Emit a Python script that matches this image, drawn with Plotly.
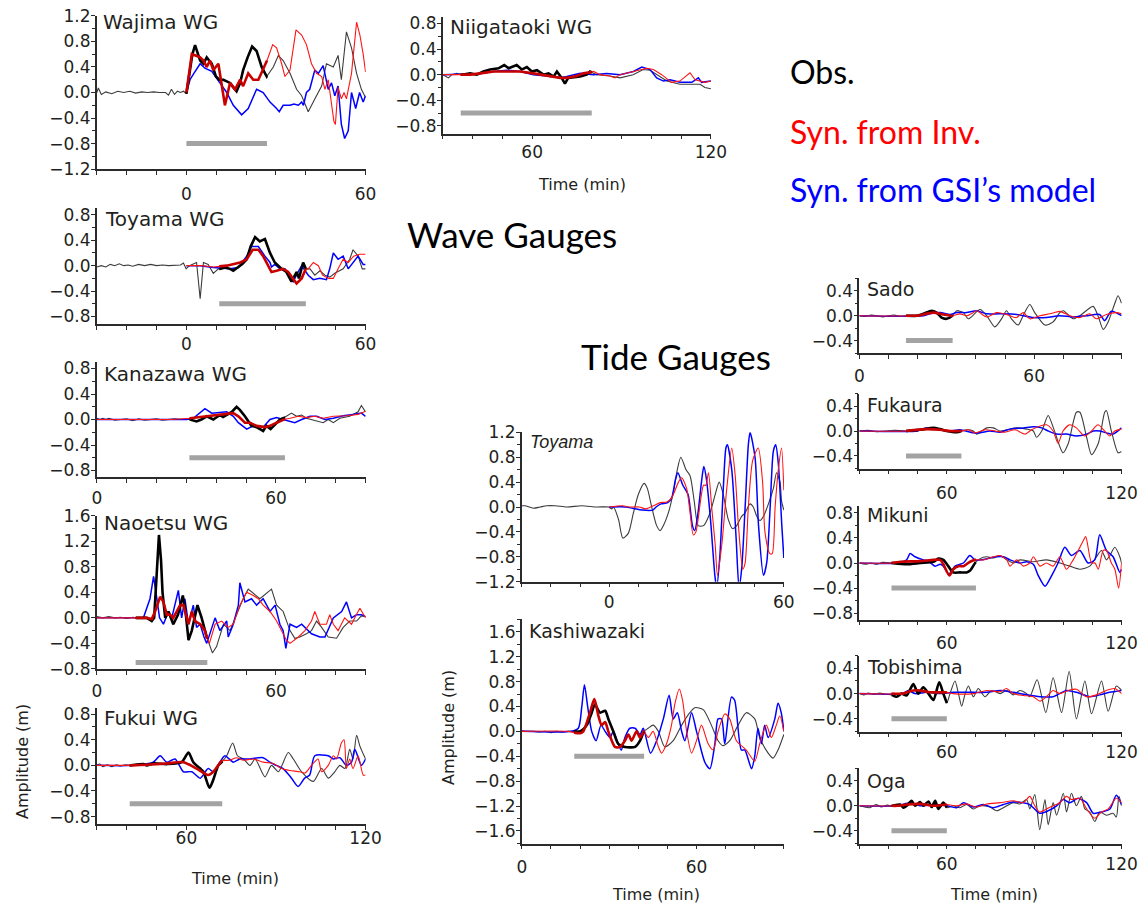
import plotly.graph_objects as go

W, H = 1146, 908

# ---------------- data (time in min, amplitude in m) ----------------
WAJIMA_OBS = [(-30,0.0),(-29.5,0.07),(-28.5,-0.03),(-27,0.01),(-25,-0.02),(-23,0.02),(-21,0.0),(-19,0.02),(-17,-0.01),(-15,0.01),(-13,0.0),(-11,0.01),(-9,0.0),(-7,0.0),(-6,-0.04),(-5,0.05),(-4,-0.03),(-3,0.02),(-2,0.0),(-1,0.02),(0,-0.02),(1,0.3),(2,0.6),(2.9,0.74),(3.6,0.65),(4.6,0.5),(5.7,0.45),(6.8,0.55),(7.6,0.5),(8.5,0.45),(9.9,0.25),(11,0.2),(12.4,0.2),(13.5,0.17),(14.6,0.15),(15.7,0.08),(16.8,0.02),(18,0.15),(19,0.35),(20.5,0.55),(22,0.72),(23.5,0.65),(25.2,0.4),(26.9,0.25),(29.1,0.4),(30.8,0.58),(32.4,0.5),(34.7,0.3),(36.9,0.05),(38.6,-0.05),(40.8,-0.3),(43,-0.1),(45.3,0.1),(46.9,0.45),(49.2,0.4),(50.8,0.58),(51.9,0.2),(53.6,0.95),(55.3,0.7),(57,0.3),(58.6,0.05),(60,-0.08)]
WAJIMA_INV = [(0,0.0),(1.8,0.6),(3.5,0.57),(4.6,0.55),(5.7,0.5),(6.8,0.4),(7.9,0.5),(9,0.35),(10.7,0.45),(11.2,0.3),(12.9,-0.2),(14.6,0.15),(16.3,0.05),(18,0.2),(19,0.1),(20.7,0.3),(22.4,0.2),(24.1,0.2),(26.3,0.45),(27,0.5),(28.9,0.75),(30.2,0.7),(31.9,0.45),(33,0.25),(34.7,0.35),(36.7,0.98),(38.6,0.9),(40.2,0.75),(41.9,0.45),(43.6,0.3),(45.3,0.25),(46.4,0.05),(47.5,0.2),(49.4,-0.45),(49.9,-0.5),(50.8,0.08),(51.9,-0.1),(52.8,0.0),(53.6,-0.1),(55.3,0.3),(57,1.1),(58.1,0.9),(59.2,0.6),(60,0.32)]
WAJIMA_GSI = [(0,0.0),(1.2,0.2),(2.5,0.3),(4.6,0.45),(6.2,0.38),(8.5,0.33),(11.2,0.15),(13.5,0.0),(15.7,-0.2),(18.5,-0.35),(20.7,-0.25),(23.5,0.05),(25.7,0.0),(28,-0.15),(30.2,-0.25),(31.1,-0.3),(32.4,-0.2),(34.7,-0.2),(36,-0.18),(37.5,-0.2),(38.6,-0.15),(39.2,-0.2),(40.2,0.0),(41.3,0.05),(43,0.35),(44.2,0.3),(45.8,0.42),(47.5,0.05),(48.6,0.15),(49.7,-0.05),(50.8,0.1),(51.9,-0.5),(53,-0.72),(54.2,-0.6),(55.3,0.0),(56.7,-0.25),(58,0.0),(59.2,-0.15),(60,-0.05)]

TOYAMAWG_OBS = [(-30,-0.02),(-28.5,0.0),(-27,-0.02),(-25.5,0.02),(-24,0.0),(-22.5,0.03),(-21,0.0),(-19.5,0.01),(-18,-0.01),(-16,0.02),(-14,0.0),(-12,0.02),(-10,0.0),(-8,0.01),(-6,0.0),(-4,0.0),(-2,0.01),(-1,0.04),(-0.1,-0.05),(1,0.0),(2.5,0.03),(3.4,0.05),(4.6,-0.52),(5.7,0.05),(7.3,0.02),(9,-0.12),(10.7,-0.05),(11.2,-0.05),(13,-0.03),(14.6,-0.05),(15.7,-0.08),(17.4,-0.02),(18.8,0.03),(20.2,0.1),(21.5,0.3),(23,0.45),(24.6,0.38),(26.3,0.42),(28,0.2),(29.6,0.05),(31.9,-0.05),(33.5,-0.1),(35.2,-0.25),(36.9,-0.1),(37.7,-0.2),(39.1,0.05),(40,-0.05),(41.4,-0.05),(43,-0.15),(44.7,-0.08),(46.4,-0.15),(48,-0.18),(49.7,-0.12),(52.5,-0.05),(54.7,0.1),(55.8,0.25),(57.5,0.15),(58.9,-0.05),(60,-0.05)]
TOYAMAWG_INV = [(0,0.0),(5,0.0),(9,-0.02),(13.5,0.0),(18,0.05),(20.2,0.1),(22.2,0.25),(24.1,0.25),(25.7,0.15),(27.4,0.0),(28.5,-0.1),(30.2,-0.08),(32.4,-0.05),(34.1,-0.1),(36.9,-0.28),(38.6,-0.2),(40,-0.05),(40.8,-0.05),(42.5,0.05),(44.2,0.0),(45.6,-0.15),(47.5,-0.2),(49.2,-0.2),(50.8,-0.05),(52.5,0.1),(54.2,0.05),(56,0.15),(58,0.18),(60,0.18)]
TOYAMAWG_GSI = [(0,0.0),(4.6,0.0),(9,-0.03),(14.6,-0.05),(17.4,-0.03),(20.2,0.15),(21.8,0.3),(24.1,0.3),(26.3,0.15),(28,0.05),(28.5,-0.02),(29.6,0.02),(31.3,-0.05),(33,-0.05),(34.7,-0.18),(35.8,-0.25),(37.4,-0.1),(38.6,0.0),(40.8,-0.15),(42.5,-0.22),(44.7,-0.2),(46.9,-0.22),(48,-0.05),(49.2,0.2),(50.8,0.1),(52.5,0.15),(54.2,-0.05),(55.8,0.05),(57.5,0.15),(59.2,0.02),(60,0.02)]

KANAZAWA_OBS = [(0,0.02),(1,0.0),(2,0.02),(3,0.0),(4,0.02),(6,-0.01),(8,0.0),(10,0.01),(12,-0.02),(14,0.01),(16,-0.01),(18,0.0),(20,0.01),(22,-0.01),(24,0.0),(26,0.01),(28,0.0),(30,0.0),(31.2,0.0),(33.4,-0.03),(35,0.0),(36.8,0.05),(39,0.0),(41.2,0.07),(42.3,0.04),(45.2,0.12),(46.8,0.2),(47.9,0.15),(49.6,0.05),(51.8,-0.1),(53.5,-0.12),(55.7,-0.18),(56.8,-0.1),(58.2,-0.15),(60.2,-0.05),(61.3,0.0),(62.8,0.03),(63.6,0.05),(65.2,0.1),(66.9,0.05),(68.6,0.07),(70.2,0.02),(73,-0.02),(75.8,-0.05),(77.5,0.0),(79.2,-0.05),(81.4,0.02),(84.7,0.05),(87.5,0.12),(88.6,0.22),(90,0.12)]
KANAZAWA_INV = [(0,0.0),(25,0.0),(31.2,0.02),(36.8,0.05),(41.2,0.08),(44.6,0.1),(45.7,0.1),(47.4,0.05),(49.6,-0.05),(51.3,-0.05),(53.5,-0.1),(56.3,-0.12),(58,-0.1),(60.2,-0.05),(62.4,0.0),(64.7,0.02),(67.5,0.05),(70.2,0.03),(73,0.05),(75.8,0.02),(79.2,0.05),(83.6,0.06),(87.5,0.08),(90,0.13)]
KANAZAWA_GSI = [(0,0.0),(30,0.0),(32.3,0.02),(36.2,0.17),(38.5,0.1),(41.8,0.12),(43.5,0.12),(45.7,0.05),(47.4,-0.05),(50.2,-0.15),(52.4,-0.1),(54.1,-0.1),(55.7,-0.12),(58,0.0),(60.2,0.03),(62.4,0.0),(64.7,-0.03),(66.3,-0.05),(68.6,0.0),(71.4,0.05),(73.6,0.05),(76.4,0.0),(79.2,0.02),(82.5,0.06),(85.8,0.08),(88.6,0.1),(90,0.05)]

NAOETSU_OBS = [(0,0.02),(2,0.0),(4,0.02),(6,0.0),(8,0.01),(10,-0.01),(12,0.01),(13.4,0.0),(16.7,0.0),(18.4,-0.05),(19.2,0.0),(20.2,0.8),(20.8,1.3),(21.5,0.9),(22,0.4),(22.9,0.0),(24,0.1),(25.6,-0.1),(27.2,0.05),(28.8,0.35),(29.7,0.1),(30.7,-0.35),(31.8,-0.2),(33.7,0.2),(35.1,0.0),(36.8,-0.3),(37.9,-0.45),(38.7,-0.55),(40.1,-0.45),(42.4,-0.1),(44.6,-0.2),(46.8,0.05),(49,0.3),(50.7,0.45),(53.5,0.35),(54.6,0.3),(58.5,0.45),(60.2,0.2),(62.4,0.1),(64.7,-0.2),(66.3,-0.32),(68,-0.3),(70.2,-0.25),(71.9,-0.2),(73.6,-0.05),(75.3,-0.15),(77.5,-0.3),(80.3,-0.32),(82.5,-0.15),(84.7,-0.05),(87,-0.05),(88.6,0.03),(90,0.02)]
NAOETSU_INV = [(0,0.0),(13.4,0.0),(16.7,0.0),(18.4,-0.02),(19.5,0.1),(21.2,0.33),(22.3,0.25),(23.4,0.05),(24.5,0.05),(25.6,0.0),(27.9,0.2),(29,0.2),(30.7,-0.1),(31.8,0.1),(32.9,-0.05),(34.6,-0.1),(36.2,-0.2),(36.8,-0.3),(37.7,-0.4),(39.6,-0.1),(41.8,-0.05),(44,-0.15),(45.7,-0.1),(47.9,0.2),(50.2,0.4),(52.4,0.35),(54.1,0.3),(55.7,0.2),(58,0.1),(60.2,-0.05),(63.5,-0.35),(64.7,-0.4),(67.5,-0.3),(69.7,-0.2),(71.9,-0.05),(73,0.1),(74.7,-0.1),(76.9,-0.1),(78,0.05),(79.2,-0.1),(80.8,-0.2),(83,0.0),(85.3,-0.1),(86.9,0.05),(88.1,0.15),(90,0.0)]
NAOETSU_GSI = [(0,0.0),(15.6,0.0),(17.8,0.3),(19,0.65),(20.1,0.3),(21,0.0),(22.3,-0.1),(24,0.1),(25.1,0.0),(27.3,0.43),(28.4,0.0),(29.5,0.3),(30.7,-0.1),(32.3,0.2),(33.4,-0.15),(34.6,-0.1),(35.9,-0.3),(36.8,-0.4),(39.6,0.0),(41.2,-0.2),(43.5,-0.05),(44,-0.3),(45.7,-0.1),(47.4,0.2),(47.9,0.55),(49.6,0.25),(51.8,0.3),(53.5,0.2),(55.7,0.3),(58,0.1),(59.7,0.2),(61.3,-0.1),(62.4,-0.2),(63.3,-0.48),(64.7,-0.1),(66.9,-0.15),(68.6,-0.1),(71.9,-0.25),(74.7,-0.3),(76.4,-0.3),(79.2,0.0),(82,0.1),(83.6,0.25),(85.3,0.0),(87,0.05),(88.6,0.05),(90,0.02)]

FUKUIWG_OBS = [(30,0.0),(31,0.02),(32,-0.02),(33.5,0.01),(35,-0.02),(36.5,0.01),(38,-0.01),(39.5,0.01),(41.1,0.0),(45.6,0.02),(46.7,0.0),(48.9,0.03),(53.4,0.02),(58.4,0.05),(60.7,0.2),(62.3,0.05),(64.6,-0.05),(65.7,-0.1),(67.7,-0.35),(68.8,-0.25),(70.7,0.0),(71.8,0.05),(73.5,0.15),(75.5,0.35),(77.1,0.15),(79.1,0.1),(81.3,0.0),(83,0.1),(86.3,-0.18),(88.5,0.0),(90.8,-0.1),(94.1,0.2),(95.8,0.1),(98.6,-0.1),(102.5,-0.25),(105.3,-0.05),(107.5,-0.2),(109.7,-0.1),(111.4,0.0),(113.1,-0.05),(114.7,0.25),(115.8,0.1),(117,0.47),(118.1,0.3),(120,0.1)]
FUKUIWG_INV = [(30,0.0),(41,0.0),(46.7,0.01),(53.4,0.03),(59,0.05),(63.4,-0.05),(67.3,-0.15),(69,-0.1),(71.8,0.07),(74.6,0.08),(76.8,0.12),(79.1,0.08),(82.4,0.1),(85.7,0.05),(89.1,0.03),(91.9,-0.05),(94.6,-0.08),(98,-0.1),(99.7,-0.12),(101.9,0.0),(104.1,0.1),(105.3,-0.1),(107.5,0.0),(109.2,0.15),(110.3,0.1),(111.9,0.35),(112.8,0.4),(113.6,-0.05),(114.7,0.1),(115.8,-0.05),(117.5,0.15),(119.2,-0.15),(120,-0.15)]
FUKUIWG_GSI = [(30,0.0),(42,0.0),(48.9,0.05),(51.2,0.15),(53.4,0.05),(56.2,0.1),(59,-0.1),(61.8,-0.1),(64.6,-0.2),(67.3,-0.05),(69,-0.1),(71.2,0.05),(72.9,0.15),(75.7,0.05),(77.9,0.1),(80.7,0.1),(85.7,0.12),(87.9,0.05),(90.1,0.0),(92.4,-0.05),(95.2,-0.2),(97.4,-0.33),(99.6,-0.2),(101.3,-0.15),(103,0.15),(107.5,0.15),(109.2,0.1),(111.4,0.12),(113.6,0.0),(115.3,0.05),(116.4,0.25),(118.6,0.0),(120,0.1)]

NIIGATAOKI_OBS = [(30,0.0),(31.9,-0.05),(33,0.0),(34.7,0.02),(36.4,0.0),(39.2,0.02),(41.4,0.0),(43.6,0.05),(45.9,0.08),(48.7,0.1),(50.6,0.15),(52.1,0.1),(54.8,0.15),(56.5,0.08),(58.2,0.12),(59.9,0.05),(61.6,0.07),(63.8,0.0),(65.5,0.02),(67.2,-0.03),(68.3,0.05),(69.9,-0.05),(71,-0.14),(72.1,-0.05),(76.1,-0.03),(78.3,0.0),(79.4,0.05),(81.6,0.0),(86.1,-0.02),(89.5,-0.05),(93.9,0.0),(97.3,0.08),(99.6,0.07),(101.8,0.0),(105.2,-0.1),(109.6,-0.15),(114.1,-0.15),(116.4,-0.15),(118,-0.2),(120,-0.22)]
NIIGATAOKI_INV = [(30,0.0),(39.2,0.0),(42.6,0.02),(47,0.05),(51.5,0.05),(56,0.05),(60.4,0.02),(66,-0.03),(69.4,-0.05),(71.6,-0.05),(75,-0.02),(77.2,0.02),(79.4,0.03),(80.6,0.05),(82.8,0.0),(86.1,-0.02),(87.8,-0.05),(89.5,0.0),(94,0.05),(98.5,0.1),(100.7,0.08),(103.5,0.0),(106.8,-0.12),(109.6,-0.1),(113,0.03),(114.7,-0.08),(118,-0.12),(120,-0.1)]
NIIGATAOKI_GSI = [(30,0.0),(42.6,0.02),(47,0.05),(51.5,0.07),(56,0.05),(60.4,0.0),(64.9,-0.02),(69.4,-0.05),(71.6,-0.03),(73.9,0.0),(76.1,0.02),(80.6,0.0),(85,0.02),(89.5,0.0),(94,0.05),(96.8,0.12),(99.6,0.08),(101.8,-0.05),(104.1,-0.1),(106.3,-0.08),(109.6,-0.12),(113.6,-0.12),(115.8,-0.05),(116.9,-0.12),(120,-0.1)]

TOYAMATG_OBS = [(-30,0.02),(-28.9,0.02),(-26,-0.02),(-23.7,0.0),(-21.4,0.02),(-18.5,0.02),(-14.5,0.0),(-9.4,0.02),(-4.3,0.0),(-0.3,0.0),(0.9,-0.03),(1.5,0.0),(3.2,-0.2),(4.7,-0.5),(6.6,-0.42),(8.3,-0.1),(10,0.2),(12,0.38),(13.1,0.3),(14.6,0.0),(16.3,-0.3),(17.5,-0.38),(18.6,-0.3),(20.3,-0.1),(22.3,0.3),(23.4,0.6),(24.6,0.8),(26.4,0.6),(27.8,0.5),(29.2,0.1),(30.6,-0.3),(32.4,-0.3),(34.6,-0.1),(36.4,0.2),(37.8,0.4),(39.2,0.2),(40.9,-0.2),(42.4,-0.35),(43.8,-0.3),(45.5,-0.15),(46.6,-0.1),(48.4,0.05),(49.5,0.0),(50.7,-0.15),(51.8,-0.22),(53,-0.15),(54.7,0.05),(56.4,0.3),(57.5,0.55),(58.7,0.4),(59.2,0.1),(60,-0.05)]
TOYAMATG_INV = [(0,0.0),(4.6,0.02),(6.9,0.0),(10.3,0.0),(12.6,-0.03),(15.2,0.02),(17.5,0.07),(19.8,0.08),(21.5,0.15),(23.8,0.4),(24.9,0.47),(26.6,0.3),(27.8,-0.1),(28.9,-0.45),(29.8,-0.4),(32.4,0.35),(33.2,0.35),(34.1,0.55),(35.2,0.0),(36.4,-0.6),(37.2,-1.1),(38.7,-0.6),(40.4,0.3),(42.1,0.95),(43.3,0.5),(44.4,-0.3),(45.9,-1.0),(46.7,-0.9),(47.8,0.0),(49.3,0.75),(51.2,0.95),(52.7,0.4),(53.5,-0.4),(55.2,-0.75),(56,-0.75),(57,0.0),(58.1,0.6),(59.2,0.95),(60,0.27)]
TOYAMATG_GSI = [(0,0.0),(5.7,0.0),(8,-0.02),(11.5,-0.05),(14.9,-0.05),(16.1,0.0),(17.8,0.05),(20.1,0.07),(21.5,0.15),(22.8,0.45),(23.6,0.55),(25.3,0.35),(27.1,0.2),(28.6,-0.3),(29.4,-0.38),(30.5,-0.1),(31.7,0.4),(32.5,0.65),(33.4,0.45),(34.8,-0.2),(36.3,-1.1),(36.9,-1.3),(38,-0.8),(39.2,0.3),(40.1,0.95),(40.6,1.0),(42.1,0.6),(43.6,-0.5),(44.6,-1.3),(45.5,-1.0),(46.7,0.0),(47.8,1.0),(48.4,1.2),(50.1,0.8),(51.3,-0.3),(53,-1.1),(54.1,-0.9),(55.3,0.0),(56.4,0.9),(57.2,1.0),(58.1,0.7),(59.3,-0.3),(60,-0.82)]

KASHIWAZAKI_OBS = [(0,0.01),(2,0.0),(4,0.0),(6,-0.01),(8,0.0),(10,-0.02),(12,0.0),(14,-0.01),(16,0.0),(17.9,0.0),(20,0.0),(22.3,0.1),(24,0.3),(25.1,0.43),(26.9,0.3),(28.6,0.33),(29.7,0.2),(31.4,0.0),(33.1,-0.2),(35.4,-0.25),(38.9,-0.25),(40.6,-0.15),(41.9,0.0),(43.4,0.05),(45.1,0.1),(46.9,0.0),(49.1,-0.25),(52,-0.15),(54.9,0.1),(57.7,0.3),(59.4,0.38),(62.3,0.35),(65.1,0.1),(67.4,-0.15),(69.1,-0.23),(71.4,-0.15),(74.3,0.1),(77.1,0.3),(80,0.2),(81.7,-0.1),(84.6,-0.35),(86.3,-0.43),(88,-0.3),(90,-0.05)]
KASHIWAZAKI_INV = [(0,0.0),(16,0.0),(17.9,-0.02),(20,-0.03),(21.1,0.0),(23.4,0.3),(24.9,0.52),(26.3,0.25),(27.4,0.1),(28.6,0.15),(29.7,0.0),(32,-0.25),(33.7,-0.25),(35.4,-0.15),(36.6,-0.05),(37.7,-0.15),(39.4,0.0),(40.6,-0.1),(41.9,0.0),(43.4,-0.1),(45.1,0.0),(46.9,-0.25),(48,-0.35),(49.7,-0.2),(51.4,0.1),(52.6,0.45),(54.1,0.68),(55.2,0.5),(56.6,0.0),(58.3,-0.35),(60,-0.15),(61.7,0.1),(64,-0.2),(65.7,-0.3),(67.4,0.0),(69.7,0.28),(71.4,0.2),(73.7,-0.15),(77.1,-0.3),(80,-0.48),(81.7,-0.2),(84,0.1),(85.7,-0.1),(87.4,0.1),(88.6,0.25),(90,0.0)]
KASHIWAZAKI_GSI = [(0,0.0),(17,0.0),(19.4,0.05),(20.6,0.4),(21.5,0.75),(22.6,0.4),(24,0.0),(25.5,-0.15),(27.2,0.1),(28.6,0.0),(30.3,-0.1),(31.4,0.0),(34.1,-0.3),(35.4,-0.1),(37.1,0.05),(38.9,0.05),(40.6,-0.05),(41.7,0.05),(44.2,-0.35),(46.3,-0.15),(48.6,0.2),(50.6,0.58),(52,0.2),(53.4,0.3),(54.9,0.0),(56,-0.15),(58.3,0.3),(60,0.0),(62.9,-0.5),(64.6,-0.6),(66.3,-0.2),(67.4,0.2),(68.6,0.2),(69.7,-0.2),(72,0.55),(73.1,0.5),(75.4,-0.3),(76.6,-0.3),(78.9,-0.6),(80,-0.4),(81.1,0.05),(82.3,-0.2),(83.4,0.1),(84.6,-0.1),(86.9,0.2),(88,0.45),(89.1,0.3),(90,0.0)]

SADO_OBS = [(0,0.0),(2,-0.01),(4,0.01),(6,0.0),(8,-0.02),(10,0.0),(12,0.01),(14,-0.01),(16,0.0),(19.7,0.0),(21.9,0.03),(24.8,0.08),(26.5,0.05),(28.2,-0.03),(29.9,-0.05),(31.9,0.0),(33.4,0.08),(35.7,0.05),(37.4,-0.05),(41.4,0.1),(43.7,0.0),(46.5,-0.18),(48.8,-0.05),(50.5,0.08),(52.2,-0.05),(54.5,-0.15),(56.2,0.0),(58.5,0.18),(60.2,0.05),(63.7,-0.15),(66.5,-0.1),(68.8,0.05),(70,0.08),(73.4,-0.05),(75.7,0.0),(80.2,0.15),(81.9,0.0),(83.7,-0.22),(85.4,-0.1),(87.7,0.2),(88.8,0.32),(90,0.2)]
SADO_INV = [(0,0.0),(20,0.0),(21.9,0.02),(25.4,0.05),(28.8,0.02),(31.9,0.0),(34.5,0.03),(36.8,0.0),(39.1,0.05),(40.2,0.08),(43.7,-0.02),(47.1,0.05),(50.5,0.02),(53.9,-0.03),(56.2,0.05),(58.5,-0.05),(61.9,0.0),(65.4,0.03),(68.8,0.07),(72.2,0.0),(75.7,-0.03),(79.1,0.03),(81.4,-0.05),(84.8,0.02),(88.2,0.05),(90,0.03)]
SADO_GSI = [(0,0.0),(22,0.0),(24.2,0.03),(27.7,0.05),(31.1,0.02),(33.4,0.05),(36.8,0.05),(40.2,0.08),(43.7,0.03),(48.2,0.03),(54,0.02),(59.7,-0.03),(64.2,-0.03),(68.8,0.0),(73.4,-0.02),(77.9,0.0),(82.5,0.02),(84.2,-0.08),(86.5,0.07),(90,0.0)]

FUKAURA_OBS = [(30,0.0),(33,0.01),(36,-0.01),(39,0.0),(42,0.01),(46,0.0),(50.8,0.02),(55.4,0.05),(57.7,0.03),(60,0.0),(63.4,-0.02),(65.1,0.0),(66.9,0.02),(69.1,0.0),(70.2,-0.05),(72,0.0),(73.7,0.05),(76,0.05),(78.3,0.0),(80.6,0.02),(84,0.05),(87.4,0.03),(89.7,0.0),(90.8,-0.1),(92.6,0.0),(94.8,0.25),(96.6,0.05),(99.9,-0.35),(101.7,-0.2),(104.5,0.3),(105.7,0.3),(108,-0.1),(109.7,-0.38),(112,-0.2),(114.2,0.3),(114.8,0.33),(116.5,0.0),(118.8,-0.35),(120,-0.33)]
FUKAURA_INV = [(30,0.0),(46,0.0),(53.1,0.03),(57.7,0.02),(61.1,0.0),(65.1,0.0),(67.5,0.02),(69.7,-0.03),(73.1,0.02),(76.6,0.0),(80,-0.02),(83.4,0.02),(86.9,-0.05),(89.1,0.02),(94.2,0.1),(96.5,0.0),(98.2,-0.2),(99.9,0.0),(102.2,0.1),(104.5,0.05),(107.4,-0.08),(109.7,0.0),(111.9,0.1),(114.2,0.0),(115.9,-0.08),(117.7,0.0),(120,0.03)]
FUKAURA_GSI = [(30,0.0),(50,0.0),(50.8,0.02),(53.1,0.05),(57.7,0.02),(61.1,0.0),(64.5,0.02),(69.1,-0.03),(71.4,-0.03),(74.8,0.0),(78.3,-0.02),(81.7,0.03),(86.3,0.05),(89.7,0.07),(92.6,0.05),(94.8,0.0),(97.7,-0.05),(101.1,-0.05),(104.5,-0.08),(108,-0.05),(110.3,0.0),(112.5,0.0),(114.8,-0.03),(117.1,-0.05),(120,0.05)]

MIKUNI_OBS = [(30,0.0),(32,-0.02),(34,0.0),(36,-0.02),(38,0.01),(41.1,0.0),(46.2,-0.02),(50.8,0.0),(55.4,0.02),(57.1,0.07),(58.8,0.05),(60.5,-0.05),(62.2,-0.15),(64.5,-0.15),(66.8,-0.15),(68,-0.12),(69.7,0.0),(71.4,0.07),(73.7,0.1),(76,0.08),(78.2,0.12),(80.6,0.05),(82.8,0.0),(85.1,0.05),(89.7,0.02),(94.2,0.05),(98.8,0.0),(102.2,-0.05),(105.7,-0.1),(109.1,-0.05),(111.4,0.1),(113.1,0.2),(114.8,0.05),(116,0.12),(117.7,0.25),(119.4,0.1),(120,0.0)]
MIKUNI_INV = [(30,0.0),(41,0.0),(44.1,0.02),(50.8,0.03),(55.4,0.05),(57.7,0.05),(58.8,-0.02),(60.9,-0.2),(62.2,-0.1),(64,-0.05),(65.7,-0.05),(68,0.02),(69.7,0.05),(72.6,0.05),(76,0.1),(78.2,0.12),(80.6,0.05),(81.7,-0.05),(84,0.05),(86.3,-0.05),(88.5,0.0),(89.7,0.1),(92,-0.05),(94.2,0.0),(96.5,-0.05),(98.8,0.1),(101.1,-0.1),(103.4,0.05),(106.8,0.35),(107.7,0.42),(109.7,0.0),(110.9,0.0),(112,-0.1),(113.7,0.2),(114.8,0.2),(116.5,0.0),(117.7,-0.1),(119,-0.4),(120,0.0)]
MIKUNI_GSI = [(30,0.0),(43,0.0),(46.2,0.05),(47.4,0.15),(49.1,0.1),(52,0.05),(53.7,0.03),(56,-0.05),(57.7,-0.02),(58.8,-0.05),(60.7,-0.18),(62.8,-0.05),(65.7,0.0),(67.9,0.12),(69.7,0.05),(72,0.05),(74.8,0.08),(77.1,0.1),(79.4,0.1),(81.7,0.05),(85.1,0.0),(87.4,0.02),(89.7,-0.02),(91.4,-0.2),(93.7,-0.37),(96,-0.2),(98.2,0.0),(100.5,0.25),(102.8,0.12),(105.7,0.2),(108.5,0.0),(110.8,0.05),(112.5,0.45),(114.8,0.2),(117.1,0.1),(119.4,-0.15),(120,-0.1)]

TOBISHIMA_OBS = [(30,0.0),(31.5,-0.02),(33,0.01),(35,-0.01),(37,0.01),(39,-0.01),(41.1,-0.02),(42.8,-0.05),(44.5,0.0),(46.2,-0.03),(48.5,0.15),(50.2,0.0),(51.9,0.1),(53.7,0.0),(55.4,-0.1),(57.4,0.18),(58.8,0.0),(60,-0.15),(61.1,0.0),(62.8,0.2),(64,0.0),(65.1,-0.2),(66.3,0.0),(67.4,0.12),(69.1,-0.05),(70.8,0.08),(73.1,-0.05),(75.4,0.05),(78.3,0.0),(80.6,0.05),(82.8,-0.02),(85.1,0.05),(87.4,0.0),(88.5,-0.05),(91,0.22),(94,-0.3),(96.5,0.25),(99.4,-0.3),(102,0.35),(104.5,-0.4),(107.4,0.2),(109.7,-0.32),(113.1,0.2),(115.4,-0.28),(118.2,0.12),(120,0.05)]
TOBISHIMA_INV = [(30,0.0),(45,0.0),(46.2,0.02),(48.5,0.05),(50.8,0.05),(53.1,0.03),(55.4,0.02),(60,0.02),(62.2,0.0),(69.1,0.0),(73.7,0.05),(78.3,0.03),(80.5,0.08),(82.8,0.0),(86.3,-0.03),(89.7,-0.05),(92,-0.12),(94.2,-0.05),(96.5,0.05),(98.8,0.0),(101.7,0.05),(104.5,0.07),(107.9,-0.05),(111.4,-0.02),(114.8,0.05),(117.7,0.08),(120,0.0)]
TOBISHIMA_GSI = [(30,0.0),(45,0.0),(46.7,0.05),(49.1,0.0),(53.1,0.02),(57.7,0.0),(62.2,0.02),(69.1,0.02),(73.7,0.02),(78.3,0.05),(82.8,0.02),(87.4,-0.02),(92,-0.05),(96.5,-0.05),(101.1,0.05),(104.5,0.02),(109.1,-0.05),(112.5,-0.02),(115.9,0.02),(120,0.05)]

OGA_OBS = [(30,0.0),(33.5,-0.03),(35.7,0.02),(37.5,-0.02),(39.5,0.01),(41.1,0.0),(44,0.02),(45.1,-0.03),(46.2,0.0),(47.9,0.08),(49.1,0.0),(50.8,0.06),(51.9,0.0),(53.7,0.07),(54.8,-0.02),(56,0.08),(57.1,-0.05),(58.8,0.05),(60,-0.03),(62.2,0.0),(64.5,-0.03),(66.8,0.02),(69.1,-0.05),(71.4,0.0),(74.8,-0.02),(77.1,-0.08),(80.6,0.0),(82.8,0.05),(85.1,0.03),(87.4,0.1),(88.5,-0.05),(90.2,0.18),(91.9,-0.38),(93.7,0.1),(94.8,-0.3),(96.5,0.05),(97.7,-0.15),(100,0.2),(101.1,-0.1),(102.8,0.2),(104.5,0.0),(106.2,0.15),(107.4,-0.05),(109.1,-0.1),(110.8,-0.25),(112.5,-0.1),(114.8,-0.15),(117.1,-0.12),(118.2,-0.18),(119.1,0.15),(120,0.0)]
OGA_INV = [(30,0.0),(43,0.0),(46.2,0.02),(50.8,0.03),(55.4,0.0),(60,0.02),(63.4,0.0),(66.8,0.03),(70.2,-0.02),(73.7,0.03),(78.3,0.05),(82.8,0.08),(86.3,0.05),(88.5,0.15),(90.2,0.0),(91.9,-0.1),(94.2,-0.05),(96.5,0.0),(98.8,0.05),(101.1,0.15),(102.8,0.1),(105.7,0.12),(108,-0.05),(110.8,-0.2),(113.1,-0.1),(115.4,-0.05),(118.2,0.12),(120,0.05)]
OGA_GSI = [(30,0.0),(43,0.0),(47.4,0.05),(50.8,0.0),(55.4,0.02),(60,0.0),(63.4,-0.03),(65.7,0.05),(69.1,-0.02),(72.6,0.02),(76,-0.03),(79.4,0.02),(82.8,0.06),(86.3,0.05),(88.5,0.02),(91.9,-0.12),(94.8,-0.08),(97.7,0.0),(100,0.1),(102.2,0.05),(105.1,0.12),(108,0.05),(110.3,-0.12),(113.1,-0.1),(116,-0.05),(118.2,0.17),(120,0.02)]

# inversion windows (min) and level of the grey bar (m)
WINDOWS = {
    "Wajima WG": (0, 27, -0.8), "Toyama WG": (11, 40, -0.6), "Kanazawa WG": (31, 63, -0.6),
    "Naoetsu WG": (13, 37, -0.7), "Fukui WG": (41, 72, -0.6), "Niigataoki WG": (36, 80, -0.6),
    "Toyama": None, "Kashiwazaki": (18, 42, -0.4), "Sado": (16, 32, -0.4),
    "Fukaura": (46, 65, -0.4), "Mikuni": (41, 70, -0.4), "Tobishima": (41, 60, -0.4), "Oga": (41, 60, -0.4),
}

# ---------------- layout of panels (pixel boxes) ----------------
PANELS = [
    # name, obs, inv, gsi, xrange, yrange, box(x0,x1,ytop,ybot), title pos, standoff, italic, smooth
    ("Wajima WG", WAJIMA_OBS, WAJIMA_INV, WAJIMA_GSI, (-30, 60), (-1.2, 1.2), (96.7, 365.7, 15.7, 169.3), (101, 22), 5, False, False),
    ("Toyama WG", TOYAMAWG_OBS, TOYAMAWG_INV, TOYAMAWG_GSI, (-30, 60), (-0.92, 0.9), (96.7, 365.7, 208.3, 324.3), (103, 219), 0, False, False),
    ("Kanazawa WG", KANAZAWA_OBS, KANAZAWA_INV, KANAZAWA_GSI, (0, 90), (-0.9, 0.9), (96.7, 365.7, 362, 477), (102, 374), 1, False, False),
    ("Naoetsu WG", NAOETSU_OBS, NAOETSU_INV, NAOETSU_GSI, (0, 90), (-0.8, 1.6), (96.7, 365.7, 515.7, 669), (102, 523), 2, False, False),
    ("Fukui WG", FUKUIWG_OBS, FUKUIWG_INV, FUKUIWG_GSI, (30, 120), (-0.92, 0.9), (96.7, 365.7, 707.6, 824.4), (102, 718), -7, False, True),
    ("Niigataoki WG", NIIGATAOKI_OBS, NIIGATAOKI_INV, NIIGATAOKI_GSI, (30, 120), (-0.92, 0.9), (442.7, 711, 16.9, 133.7), (448, 27), -2, False, False),
    ("Toyama", TOYAMATG_OBS, TOYAMATG_INV, TOYAMATG_GSI, (-30, 60), (-1.2, 1.2), (521.7, 784, 432.3, 581.7), (528, 442), 0, True, True),
    ("Kashiwazaki", KASHIWAZAKI_OBS, KASHIWAZAKI_INV, KASHIWAZAKI_GSI, (0, 90), (-1.8, 1.8), (521.7, 784, 619.2, 843.5), (527, 631), 3, False, True),
    ("Sado", SADO_OBS, SADO_INV, SADO_GSI, (0, 90), (-0.6, 0.6), (859.3, 1121.7, 278.2, 353.2), (865, 289), 3, False, True),
    ("Fukaura", FUKAURA_OBS, FUKAURA_INV, FUKAURA_GSI, (30, 120), (-0.6, 0.6), (859.3, 1121.7, 393.5, 468.5), (865, 405), 4, False, True),
    ("Mikuni", MIKUNI_OBS, MIKUNI_INV, MIKUNI_GSI, (30, 120), (-0.9, 0.9), (859.3, 1121.7, 506.4, 619.6), (865, 515), 3, False, True),
    ("Tobishima", TOBISHIMA_OBS, TOBISHIMA_INV, TOBISHIMA_GSI, (30, 120), (-0.6, 0.6), (859.3, 1121.7, 655.6, 731.6), (865, 667), 0, False, True),
    ("Oga", OGA_OBS, OGA_INV, OGA_GSI, (30, 120), (-0.6, 0.6), (859.3, 1121.7, 768.1, 843.5), (865, 781), 0, False, True),
]

LABELED_TICKS = {0: "0", 60: "60", 120: "120"}
FONT = "DejaVu Sans"
AX = "#2b2b2b"
TXT = "#231f20"


def unzip(pairs):
    return [p[0] for p in pairs], [p[1] for p in pairs]


def clip_window(pairs, t0, t1):
    t, v = unzip(pairs)
    out_t, out_v = [], []

    def interp(x):
        for i in range(len(t) - 1):
            if t[i] <= x <= t[i + 1]:
                if t[i + 1] == t[i]:
                    return v[i]
                f = (x - t[i]) / (t[i + 1] - t[i])
                return v[i] + f * (v[i + 1] - v[i])
        return None

    a = interp(t0)
    if a is not None:
        out_t.append(t0); out_v.append(a)
    for ti, vi in zip(t, v):
        if t0 < ti < t1:
            out_t.append(ti); out_v.append(vi)
    b = interp(t1)
    if b is not None:
        out_t.append(t1); out_v.append(b)
    return out_t, out_v


fig = go.Figure()
layout = dict(
    template="none",
    width=W, height=H, autosize=False, margin=dict(l=0, r=0, t=0, b=0, pad=0, autoexpand=False),
    paper_bgcolor="white", plot_bgcolor="white", showlegend=False,
    font=dict(family=FONT, color=TXT),
)
annotations = []

for i, (name, obs, inv, gsi, xr, yr, box, tpos, standoff, italic, smooth) in enumerate(PANELS):
    n = "" if i == 0 else str(i + 1)
    xa, ya = "x" + n, "y" + n
    shape = "spline" if smooth else "linear"

    def ln(color, width):
        d = dict(color=color, width=width, shape=shape)
        if smooth:
            d["smoothing"] = 0.7
        return d

    ot, ov = unzip(obs)
    it, iv = unzip(inv)
    gt, gv = unzip(gsi)
    fig.add_trace(go.Scatter(x=ot, y=ov, mode="lines", line=ln("#3c3c3c", 1.1), xaxis=xa, yaxis=ya, hoverinfo="skip"))
    fig.add_trace(go.Scatter(x=gt, y=gv, mode="lines", line=ln("#0000ff", 1.5), xaxis=xa, yaxis=ya, hoverinfo="skip"))
    fig.add_trace(go.Scatter(x=it, y=iv, mode="lines", line=ln("#ff1414", 1.1), xaxis=xa, yaxis=ya, hoverinfo="skip"))
    win = WINDOWS[name]
    if win is not None:
        w0, w1, lvl = win
        tt, vv = clip_window(obs, w0, w1)
        fig.add_trace(go.Scatter(x=tt, y=vv, mode="lines", line=ln("#000000", 2.6), xaxis=xa, yaxis=ya, hoverinfo="skip"))
        tt, vv = clip_window(inv, w0, w1)
        fig.add_trace(go.Scatter(x=tt, y=vv, mode="lines", line=ln("#c80000", 2.6), xaxis=xa, yaxis=ya, hoverinfo="skip"))
        fig.add_trace(go.Scatter(x=[w0, w1], y=[lvl, lvl], mode="lines", line=dict(color="#a3a3a3", width=5), xaxis=xa, yaxis=ya, hoverinfo="skip"))

    x0, x1, ytop, ybot = box
    tickvals = list(range(xr[0], xr[1] + 1, 10))
    ticktext = [LABELED_TICKS.get(v, "") for v in tickvals]
    layout["xaxis" + n] = dict(
        domain=[x0 / W, x1 / W], anchor=ya, range=[xr[0] - 0.05, xr[1] + 0.05], automargin=False,
        showline=True, linecolor=AX, linewidth=1.5, ticks="outside", ticklen=4, tickwidth=1.2, tickcolor=AX,
        tickmode="array", tickvals=tickvals, ticktext=ticktext, showgrid=False, zeroline=False,
        tickfont=dict(family=FONT, size=17, color=TXT), ticklabelstandoff=standoff,
    )
    layout["yaxis" + n] = dict(
        domain=[1 - ybot / H, 1 - ytop / H], anchor=xa, range=[yr[0] - 0.002, yr[1] + 0.002], automargin=False,
        showline=True, linecolor=AX, linewidth=1.5, ticks="outside", ticklen=4, tickwidth=1.2, tickcolor=AX,
        tickmode="linear", tick0=0, dtick=0.4, tickformat=".1f", showgrid=False, zeroline=False,
        minor=dict(tick0=0, dtick=0.2, ticks="outside", ticklen=3, tickwidth=1, tickcolor=AX, showgrid=False),
        tickfont=dict(family=FONT, size=17, color=TXT), ticklabelstandoff=-3,
    )
    annotations.append(dict(
        text=name, x=tpos[0] / W, y=1 - tpos[1] / H, xref="paper", yref="paper",
        xanchor="left", yanchor="middle", showarrow=False,
        font=dict(family="Liberation Sans" if italic else FONT, size=18 if italic else (20 if i < 6 else 19), color=TXT,
                  style="italic" if italic else "normal"),
    ))

# axis titles
for txt, x, y, ang in [("Time (min)", 235, 878, 0), ("Time (min)", 582, 185, 0), ("Time (min)", 656, 894, 0),
                       ("Time (min)", 994, 894, 0), ("Amplitude (m)", 22, 762, -90), ("Amplitude (m)", 448, 728, -90)]:
    annotations.append(dict(text=txt, x=x / W, y=1 - y / H, xref="paper", yref="paper", xanchor="center",
                            yanchor="middle", showarrow=False, textangle=ang,
                            font=dict(family=FONT, size=16, color=TXT)))

# headings and legend texts
for txt, x, y, col, sz in [("Wave Gauges", 405, 234, "#000000", 35), ("Tide Gauges", 579, 356, "#000000", 35),
                           ("Obs.", 788, 71, "#000000", 32), ("Syn. from Inv.", 788, 131, "#ff0000", 32),
                           ("Syn. from GSI\u2019s model", 788, 189, "#0000ff", 32)]:
    annotations.append(dict(text=txt, x=x / W, y=1 - y / H, xref="paper", yref="paper", xanchor="left",
                            yanchor="middle", showarrow=False,
                            font=dict(family="Lato", size=sz, color=col)))

layout["annotations"] = annotations
fig.update_layout(**layout)
fig.write_html("out.html", config={"displayModeBar": False}, post_script="document.body.style.margin='0';")
